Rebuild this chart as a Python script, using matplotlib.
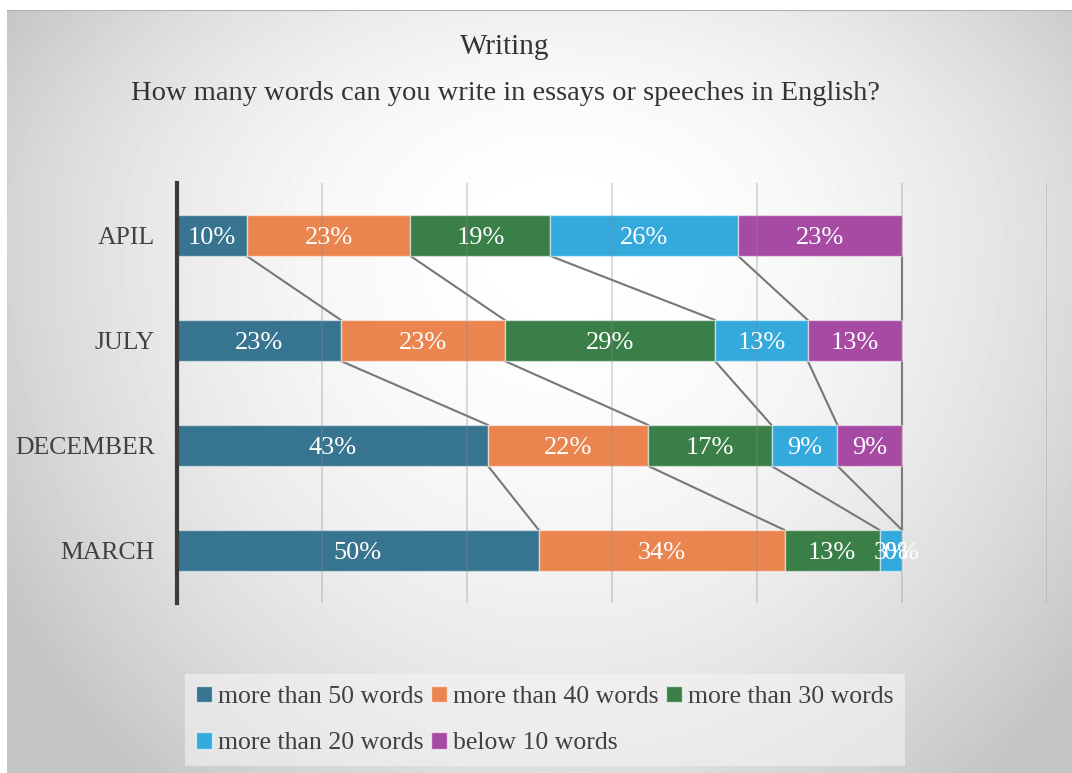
import numpy as np
import matplotlib
matplotlib.use('Agg')
import matplotlib.pyplot as plt
from matplotlib.patches import Patch

plt.rcParams['font.family'] = ['Liberation Serif', 'DejaVu Serif']

months = ['APIL', 'JULY', 'DECEMBER', 'MARCH']
series = ['more than 50 words', 'more than 40 words', 'more than 30 words',
          'more than 20 words', 'below 10 words']
colors = ['#37748f', '#eb8550', '#3a7f47', '#33a9dc', '#a64aa4']

# share of answers (%) per month, one list per answer
over_50 = [9.6, 22.6, 42.9, 49.9]
over_40 = [22.6, 22.6, 22.1, 33.9]
over_30 = [19.3, 29.0, 17.0, 13.1]
over_20 = [25.9, 12.8, 9.1, 3.1]
below_10 = [22.6, 13.0, 8.9, 0.0]

values = np.array([over_50, over_40, over_30, over_20, below_10])

W, H = 1072, 773
fig = plt.figure(figsize=(W / 100, H / 100), dpi=100, facecolor='white')

# soft radial background of the chart area
bg = fig.add_axes([7 / W, 0, 1 - 7 / W, 1 - 10 / H], zorder=-10)
yy, xx = np.mgrid[0:763, 0:1065]
ry = np.where(yy < 220, 430.0, 720.0)
r = np.sqrt(((xx - 555) / 650.0) ** 2 + ((yy - 220) / ry) ** 2)
shade = 1 - 0.23 * np.clip(r, 0, 1) ** 2
bg.imshow(shade, cmap='gray', vmin=0, vmax=1, aspect='auto',
          extent=[0, 1, 0, 1], origin='upper')
bg.axhline(1, color='#b0b0b0', lw=1.5)
bg.set_axis_off()

ax = fig.add_axes([177 / W, 1 - 603 / H, 870 / W, 420 / H])
ax.set_facecolor('none')

ypos = np.arange(len(months))
h = 0.39
left = np.zeros(len(months))
for vals, name, c in zip(values, series, colors):
    ax.barh(ypos, vals, left=left, height=h, color=c, label=name,
            edgecolor=(1, 1, 1, 0.5), linewidth=1, zorder=2)
    for y, l, v in zip(ypos, left, vals):
        ax.text(l + v / 2, y, f'{v:.0f}%', ha='center', va='center_baseline',
                color='white', fontsize=19, zorder=5)
    left = left + vals

# series lines between the segment ends of neighbouring bars
ends = np.cumsum(values, axis=0)
for row in ends:
    for k in range(len(months) - 1):
        ax.plot([row[k], row[k + 1]], [k + h / 2, k + 1 - h / 2],
                color='#777777', lw=1.5, zorder=1)

ax.set_xlim(0, 120)
ax.set_ylim(3.5, -0.5)
ax.set_xticks(np.arange(20, 121, 20))
ax.xaxis.grid(True, color='#888888', lw=1.2, alpha=0.35, zorder=4)
ax.set_axisbelow(False)
ax.tick_params(axis='x', length=0, labelbottom=False)
ax.set_yticks(ypos)
ax.set_yticklabels(months, fontsize=18.5, color='#404040')
ax.tick_params(axis='y', length=0, pad=16)
for s in ['top', 'right', 'bottom']:
    ax.spines[s].set_visible(False)
ax.spines['left'].set_color('#3a3a3a')
ax.spines['left'].set_linewidth(3)
ax.spines['left'].set_zorder(6)

fig.text(505 / W, 1 - 47 / H, 'Writing', ha='center', va='center',
         fontsize=21, color='#333333')
fig.text(505 / W, 1 - 94 / H,
         'How many words can you write in essays or speeches in English?',
         ha='center', va='center', fontsize=20.5, color='#333333')

# legend filled row by row
handles = [Patch(facecolor=c, edgecolor=(1, 1, 1, 0.6), label=n)
           for n, c in zip(series, colors)]
order = [0, 3, 1, 4, 2]
leg = fig.legend([handles[i] for i in order], [series[i] for i in order],
                 ncol=3, loc='center', bbox_to_anchor=(545 / W, 1 - 720 / H),
                 fontsize=18.5, frameon=True, fancybox=False,
                 handlelength=0.6, handleheight=0.6, handletextpad=0.25,
                 columnspacing=0.3, labelspacing=0.95, borderpad=0.45)
leg.get_frame().set_facecolor('#f4f4f4')
leg.get_frame().set_alpha(0.6)
leg.get_frame().set_edgecolor('none')
for t in leg.get_texts():
    t.set_color('#404040')

fig.savefig('out.png', dpi=100, facecolor='white')
